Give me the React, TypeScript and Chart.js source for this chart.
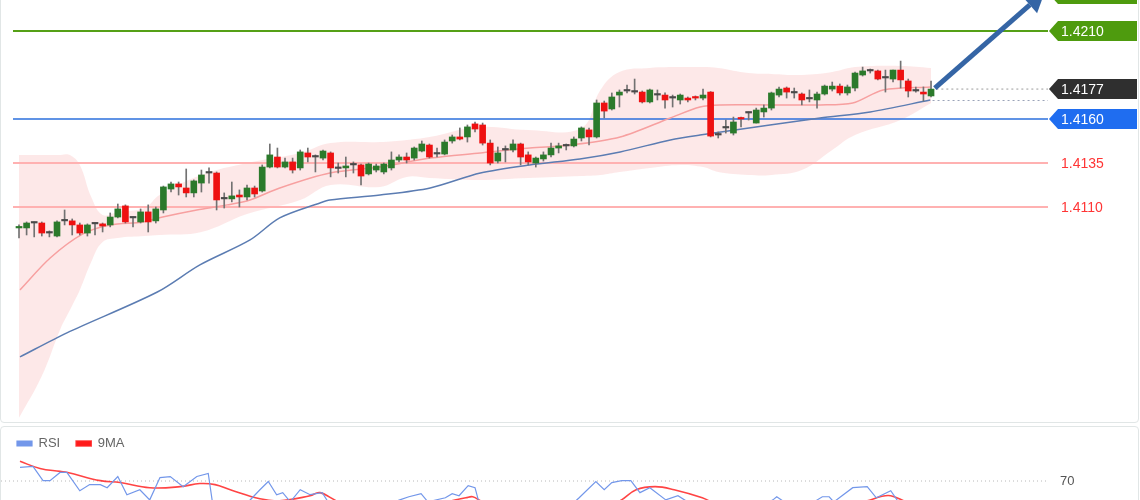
import React, { useEffect, useRef } from "react";
import { Chart, registerables } from "chart.js";
Chart.register(...registerables);

// ---------- candle data (index 0..120) ----------
const opens = [1.40981,1.40981,1.41009,1.41009,1.40952,1.40935,1.41021,1.41021,1.40998,1.40952,1.41004,1.41004,1.40998,1.41043,1.41106,1.41038,1.41015,1.41072,1.41021,1.41083,1.41202,1.41231,1.41208,1.41180,1.41236,1.41293,1.41293,1.41146,1.41146,1.41168,1.41157,1.41208,1.41191,1.41327,1.41384,1.41327,1.41356,1.41322,1.41407,1.41384,1.41378,1.41407,1.41322,1.41322,1.41339,1.41339,1.41288,1.41310,1.41299,1.41322,1.41367,1.41384,1.41378,1.41418,1.41452,1.41401,1.41401,1.41475,1.41498,1.41498,1.41572,1.41566,1.41463,1.41361,1.41424,1.41424,1.41458,1.41396,1.41350,1.41373,1.41396,1.41435,1.41447,1.41447,1.41492,1.41538,1.41498,1.41691,1.41657,1.41736,1.41759,1.41753,1.41753,1.41697,1.41736,1.41736,1.41719,1.41708,1.41719,1.41725,1.41719,1.41753,1.41509,1.41549,1.41520,1.41606,1.41634,1.41577,1.41640,1.41662,1.41736,1.41776,1.41748,1.41742,1.41714,1.41708,1.41742,1.41770,1.41787,1.41748,1.41776,1.41850,1.41873,1.41873,1.41833,1.41827,1.41878,1.41816,1.41759,1.41753,1.41731];
const highs = [1.40998,1.41015,1.41015,1.41015,1.40964,1.41021,1.41083,1.41032,1.41009,1.41004,1.41009,1.41009,1.41066,1.41117,1.41112,1.41043,1.41089,1.41112,1.41100,1.41219,1.41242,1.41242,1.41316,1.41254,1.41310,1.41322,1.41299,1.41180,1.41242,1.41197,1.41225,1.41219,1.41339,1.41458,1.41435,1.41378,1.41378,1.41424,1.41435,1.41396,1.41424,1.41413,1.41350,1.41384,1.41356,1.41344,1.41350,1.41344,1.41350,1.41413,1.41396,1.41407,1.41441,1.41475,1.41458,1.41435,1.41481,1.41509,1.41549,1.41566,1.41583,1.41577,1.41481,1.41441,1.41447,1.41481,1.41463,1.41413,1.41384,1.41413,1.41463,1.41463,1.41458,1.41498,1.41555,1.41549,1.41708,1.41702,1.41748,1.41765,1.41793,1.41827,1.41759,1.41770,1.41765,1.41748,1.41736,1.41742,1.41725,1.41731,1.41770,1.41756,1.41526,1.41594,1.41611,1.41611,1.41640,1.41662,1.41680,1.41753,1.41782,1.41782,1.41776,1.41748,1.41765,1.41753,1.41793,1.41810,1.41799,1.41793,1.41867,1.41895,1.41884,1.41878,1.41878,1.41878,1.41929,1.41827,1.41782,1.41782,1.41816];
const lows = [1.40924,1.40941,1.40930,1.40935,1.40930,1.40930,1.40998,1.40941,1.40941,1.40935,1.40941,1.40958,1.40987,1.41038,1.41009,1.40987,1.41009,1.40958,1.41009,1.41066,1.41185,1.41168,1.41157,1.41157,1.41185,1.41236,1.41083,1.41094,1.41129,1.41100,1.41140,1.41157,1.41185,1.41322,1.41322,1.41322,1.41293,1.41310,1.41356,1.41299,1.41367,1.41271,1.41293,1.41271,1.41293,1.41225,1.41282,1.41299,1.41288,1.41310,1.41356,1.41350,1.41367,1.41413,1.41378,1.41384,1.41396,1.41463,1.41481,1.41469,1.41526,1.41452,1.41339,1.41350,1.41356,1.41413,1.41339,1.41339,1.41327,1.41361,1.41384,1.41407,1.41424,1.41441,1.41475,1.41452,1.41492,1.41606,1.41651,1.41668,1.41748,1.41742,1.41691,1.41691,1.41708,1.41662,1.41668,1.41685,1.41697,1.41708,1.41708,1.41498,1.41492,1.41520,1.41509,1.41555,1.41594,1.41577,1.41611,1.41651,1.41725,1.41719,1.41719,1.41680,1.41697,1.41662,1.41736,1.41759,1.41736,1.41736,1.41759,1.41844,1.41861,1.41822,1.41753,1.41810,1.41776,1.41725,1.41753,1.41702,1.41725];
const closes = [1.40987,1.41009,1.41012,1.40952,1.40955,1.41015,1.41024,1.40998,1.40952,1.40998,1.41007,1.40992,1.41043,1.41089,1.41015,1.41041,1.41072,1.41015,1.41089,1.41214,1.41231,1.41214,1.41180,1.41248,1.41282,1.41296,1.41140,1.41149,1.41163,1.41157,1.41208,1.41174,1.41327,1.41396,1.41327,1.41356,1.41310,1.41413,1.41384,1.41387,1.41418,1.41322,1.41319,1.41333,1.41341,1.41276,1.41344,1.41333,1.41344,1.41367,1.41384,1.41367,1.41435,1.41458,1.41384,1.41404,1.41469,1.41498,1.41486,1.41555,1.41543,1.41463,1.41350,1.41407,1.41427,1.41458,1.41384,1.41356,1.41378,1.41396,1.41435,1.41447,1.41450,1.41486,1.41549,1.41498,1.41691,1.41645,1.41725,1.41753,1.41762,1.41756,1.41697,1.41765,1.41739,1.41708,1.41722,1.41736,1.41708,1.41719,1.41736,1.41503,1.41512,1.41552,1.41583,1.41600,1.41637,1.41651,1.41662,1.41748,1.41770,1.41753,1.41751,1.41708,1.41717,1.41742,1.41787,1.41787,1.41748,1.41782,1.41861,1.41873,1.41876,1.41827,1.41836,1.41878,1.41822,1.41759,1.41762,1.41742,1.41770];

// ---------- overlays (x = candle index) ----------
const bandIdx = [0,3,5.5,6.7,8,9.5,11,13,16.5,18.5,24,30,37,41,47.5,51,54,60.5,67,74,76.5,79,83,87,90,92,96,99,103,107,110,116,120];
const bandUpper = [1.41396,1.41396,1.41396,1.41396,1.41339,1.41157,1.41055,1.41072,1.41094,1.41168,1.41282,1.41350,1.41407,1.41463,1.41469,1.41481,1.41498,1.41555,1.41538,1.41549,1.41765,1.41867,1.41890,1.41895,1.41895,1.41890,1.41861,1.41856,1.41850,1.41867,1.41895,1.41901,1.41890];
const bandLower = [1.39902,1.40140,1.40413,1.40515,1.40629,1.40788,1.40901,1.40924,1.40935,1.40941,1.40958,1.41060,1.41140,1.41225,1.41214,1.41271,1.41265,1.41254,1.41265,1.41276,1.41282,1.41299,1.41322,1.41339,1.41327,1.41299,1.41282,1.41282,1.41310,1.41424,1.41509,1.41594,1.41691];

const maFastIdx = [0.13,4.1,8.4,12,16.3,18.9,23.4,27.4,30.4,34.3,40.9,47.5,54.1,60.7,67.2,72.5,79.1,85.7,89.6,92.2,98.8,105.4,109.7,113.7,119.9];
const maFastVal = [1.40629,1.40810,1.40947,1.40998,1.41015,1.41043,1.41083,1.41112,1.41140,1.41208,1.41293,1.41327,1.41378,1.41407,1.41435,1.41452,1.41498,1.41606,1.41668,1.41680,1.41680,1.41680,1.41691,1.41765,1.41782];

const maSlowIdx = [0.13,6.3,18.2,23.8,30.4,34.3,39.6,40.9,47.5,54.1,60.7,67.2,73.8,79.1,85.7,89.6,98.8,105.4,112,119.9];
const maSlowVal = [1.40248,1.40385,1.40617,1.40771,1.40913,1.41038,1.41123,1.41140,1.41168,1.41208,1.41293,1.41339,1.41373,1.41413,1.41481,1.41509,1.41566,1.41606,1.41640,1.41708];

// ---------- levels ----------
const levelPrices = [1.4231, 1.4210, 1.4177, 1.4160, 1.4135, 1.4110];
const levelLabels = ["1.4231", "1.4210", "1.4177", "1.4160", "1.4135", "1.4110"];
const levelKinds = ["support-green", "support-green", "last", "pivot", "red", "red"];
const lastPrice = 1.4177;
const slowEndPrice = 1.41705;
const arrowFrom = { x: 120.5, y: 1.41775 };
const arrowTo = { x: 133.0, y: 1.42248 };

// ---------- RSI ----------
const rsiIdx = [0.13,1.84,3.16,4.08,5.4,6.3,8,9.3,10.7,11.6,13,14.2,15.9,17.2,18.55,19.9,21.6,23.4,24.9,25.5,28.5,31.7,32.8,33.9,34.7,35.7,37,38.3,39.9,40.9,44.9,50.1,51.3,52.9,53.8,56.1,57,57.9,59.1,60,60.5,65.9,71.2,73.7,75.9,77,78,79.3,80.5,81.7,83,85.1,86.7,88,90.9,94.9,99.2,99.7,100.7,102.8,105.7,106.6,107.2,109.7,111.6,112.8,114.7,115.7,117.9,119.9];
const rsiVal = [77.9,78.5,70.2,70.2,75,75,64.3,67.9,67.9,66.1,72.6,62,64.9,59,72,72.6,66.7,72.6,74.4,56.1,50,64.9,69.7,62,63.2,57.8,64.9,62,63.2,56.1,50,59,60.8,62.6,57.8,60.2,62.6,61.4,67.3,66.1,57.8,47,50,60.2,69.7,64.9,69.1,70.2,70.2,63.2,66.1,59,61.4,57.8,41,47,59,60.8,57.8,53,60.8,60.8,57.8,66.1,66.7,60.2,64.3,57.8,50,53];
const rsiMaIdx = [0.13,2.76,5.4,6.4,10.7,13.3,17.2,21.2,23.8,25.8,27.8,31.7,34.3,38.3,39.6,42.2,50.1,58.8,59.7,61.1,69.9,78.7,81.2,83.7,86.2,89.9,92.2,101.4,111.6,113.3,114.7,116.8,119.9];
const rsiMaVal = [81.5,77.3,75.6,75,70.2,69.1,66.1,66.7,68.5,67.9,64.9,59.6,58.4,61.4,63.2,57.8,53,60.2,60.8,57.8,50,57.8,64.9,66.7,64.9,60.2,56,52,58.4,60.8,61.4,57.8,54];
const rsiLevels = [70];

const X_MIN = -0.79, X_MAX = 135.39;
const Y_MIN = 1.399011, Y_MAX = 1.422761;
const RSI_X_MIN = -2.368;
const RSI_MIN = 0, RSI_MAX = 82.25;

const pts = (xs: number[], ys: number[]) => xs.map((x, i) => ({ x, y: ys[i] }));
const LABEL_FONT = '14px "Liberation Sans", Arial, sans-serif';

const levelColor: Record<string, string> = {
  "support-green": "#55a016",
  pivot: "#2b6fdc",
  red: "#ffb1b1",
};

const tagPlugin = {
  id: "tags",
  afterDraw(chart: any) {
    const { ctx, chartArea } = chart;
    const ys = chart.scales.y;
    ctx.save();
    ctx.font = LABEL_FONT;
    ctx.textBaseline = "middle";
    levelPrices.forEach((p, i) => {
      const y = ys.getPixelForValue(p);
      const kind = levelKinds[i];
      const tip = chartArea.right + 1;
      if (kind === "red") {
        ctx.fillStyle = "#ff3535";
        ctx.fillText(levelLabels[i], tip + 12, y + 1);
        return;
      }
      const bg = kind === "support-green" ? "#4e9b0e" : kind === "last" ? "#2f2f2f" : "#1f6df0";
      ctx.fillStyle = bg;
      ctx.beginPath();
      ctx.moveTo(tip, y);
      ctx.lineTo(tip + 9, y - 10);
      ctx.lineTo(1137, y - 10);
      ctx.lineTo(1137, y + 10);
      ctx.lineTo(tip + 9, y + 10);
      ctx.closePath();
      ctx.fill();
      ctx.fillStyle = "#ffffff";
      ctx.fillText(levelLabels[i], tip + 12, y + 1);
    });
    ctx.restore();
  },
};

const arrowPlugin = {
  id: "arrowHead",
  afterDatasetsDraw(chart: any) {
    const idx = chart.data.datasets.findIndex((d: any) => d.label === "arrow");
    if (idx < 0) return;
    const meta = chart.getDatasetMeta(idx);
    const a = meta.data[0], b = meta.data[1];
    const dx = b.x - a.x, dy = b.y - a.y;
    const len = Math.hypot(dx, dy);
    const ux = dx / len, uy = dy / len;
    const nx = -uy, ny = ux;
    const L = 20, W = 11;
    const ctx = chart.ctx;
    ctx.save();
    ctx.fillStyle = "#3565a5";
    ctx.beginPath();
    ctx.moveTo(b.x + ux * L, b.y + uy * L);
    ctx.lineTo(b.x + nx * W, b.y + ny * W);
    ctx.lineTo(b.x - nx * W, b.y - ny * W);
    ctx.closePath();
    ctx.fill();
    ctx.restore();
  },
};

const rsiLabelPlugin = {
  id: "rsiLabel",
  afterDraw(chart: any) {
    const { ctx, chartArea } = chart;
    const ys = chart.scales.y;
    ctx.save();
    ctx.font = '13px "Liberation Sans", Arial, sans-serif';
    ctx.fillStyle = "#555";
    ctx.textBaseline = "middle";
    rsiLevels.forEach((v) => ctx.fillText(String(v), chartArea.right + 12, ys.getPixelForValue(v)));
    ctx.restore();
  },
};

export default function App() {
  const mainRef = useRef<HTMLCanvasElement>(null);
  const rsiRef = useRef<HTMLCanvasElement>(null);

  useEffect(() => {
    const bodyColors = opens.map((o, i) =>
      Math.abs(closes[i] - o) < 0.00004 ? "#4a4a4a" : closes[i] > o ? "#2b7a2b" : "#ee1111"
    );
    const levelSets: any[] = [];
    levelPrices.forEach((p, i) => {
      const kind = levelKinds[i];
      if (kind === "last") return;
      levelSets.push({
        type: "line",
        label: "level " + levelLabels[i],
        data: [{ x: X_MIN, y: p }, { x: X_MAX, y: p }],
        borderColor: levelColor[kind],
        borderWidth: kind === "pivot" ? 1.5 : 2,
        pointRadius: 0,
        order: 15,
      });
    });

    const main = new Chart(mainRef.current!, {
      type: "bar",
      data: {
        datasets: [
          {
            type: "line",
            label: "band upper",
            data: pts(bandIdx, bandUpper),
            borderWidth: 0,
            pointRadius: 0,
            tension: 0.4,
            fill: "+1",
            backgroundColor: "rgba(248,165,165,0.26)",
            order: 20,
          },
          {
            type: "line",
            label: "band lower",
            data: pts(bandIdx, bandLower),
            borderWidth: 0,
            pointRadius: 0,
            tension: 0.4,
            fill: false,
            order: 20,
          },
          ...levelSets,
          {
            type: "line",
            label: "ma fast",
            data: pts(maFastIdx, maFastVal),
            borderColor: "#f7a0a0",
            borderWidth: 1.5,
            pointRadius: 0,
            tension: 0.3,
            order: 12,
          },
          {
            type: "line",
            label: "ma slow",
            data: pts(maSlowIdx, maSlowVal),
            borderColor: "#5b7cb2",
            borderWidth: 1.5,
            pointRadius: 0,
            tension: 0.3,
            order: 12,
          },
          {
            type: "bar",
            label: "wicks",
            data: lows.map((l, i) => ({ x: i, y: [l, highs[i]] })),
            backgroundColor: "#727272",
            barThickness: 1,
            grouped: false,
            order: 6,
          },
          {
            type: "bar",
            label: "bodies",
            data: opens.map((o, i) => ({ x: i, y: [o, closes[i]] })),
            backgroundColor: bodyColors,
            barThickness: 6,
            minBarLength: 1.5,
            grouped: false,
            order: 5,
          },
          {
            type: "line",
            label: "last",
            data: [{ x: 120.7, y: lastPrice }, { x: X_MAX, y: lastPrice }],
            borderColor: "#9a9a9a",
            borderDash: [2, 3],
            borderWidth: 1,
            pointRadius: 0,
            order: 3,
          },
          {
            type: "line",
            label: "slow end",
            data: [{ x: 120.2, y: slowEndPrice }, { x: X_MAX, y: slowEndPrice }],
            borderColor: "#9aa3b8",
            borderDash: [2, 3],
            borderWidth: 1,
            pointRadius: 0,
            order: 3,
          },
          {
            type: "line",
            label: "arrow",
            data: [arrowFrom, arrowTo],
            borderColor: "#3565a5",
            borderWidth: 5,
            pointRadius: 0,
            order: 1,
          },
        ] as any,
      },
      options: {
        responsive: false,
        animation: false,
        devicePixelRatio: 1,
        layout: { padding: { left: 13, right: 92, top: 0, bottom: 6 } },
        plugins: { legend: { display: false }, tooltip: { enabled: false } },
        scales: {
          x: { type: "linear", min: X_MIN, max: X_MAX, display: false, offset: false },
          y: { type: "linear", min: Y_MIN, max: Y_MAX, display: false, beginAtZero: false },
        },
      } as any,
      plugins: [tagPlugin, arrowPlugin],
    });

    const rsi = new Chart(rsiRef.current!, {
      type: "line",
      data: {
        datasets: [
          {
            label: "RSI",
            data: pts(rsiIdx, rsiVal),
            borderColor: "#7397ea",
            backgroundColor: "#7397ea",
            borderWidth: 1.2,
            pointRadius: 0,
            tension: 0,
          },
          {
            label: "9MA",
            data: pts(rsiMaIdx, rsiMaVal),
            borderColor: "rgba(255,35,35,0.85)",
            backgroundColor: "#ff1a1a",
            borderWidth: 1.6,
            pointRadius: 0,
            tension: 0.4,
          },
          {
            label: "",
            data: [{ x: RSI_X_MIN, y: rsiLevels[0] }, { x: X_MAX, y: rsiLevels[0] }],
            borderColor: "#b8b8b8",
            borderDash: [1, 3],
            borderWidth: 1,
            pointRadius: 0,
          },
        ],
      },
      options: {
        responsive: false,
        animation: false,
        devicePixelRatio: 1,
        layout: { padding: { left: 1, right: 92, top: 0, bottom: 0 } },
        plugins: {
          tooltip: { enabled: false },
          legend: {
            display: true,
            position: "top",
            align: "start",
            labels: {
              boxWidth: 15,
              boxHeight: 5,
              padding: 16,
              color: "#666",
              font: { size: 13, family: '"Liberation Sans", Arial, sans-serif' },
              filter: (item: any) => item.text !== "",
            },
          },
        },
        scales: {
          x: { type: "linear", min: RSI_X_MIN, max: X_MAX, display: false },
          y: { type: "linear", min: RSI_MIN, max: RSI_MAX, display: false },
        },
      } as any,
      plugins: [rsiLabelPlugin],
    });

    return () => {
      main.destroy();
      rsi.destroy();
    };
  }, []);

  return (
    <div style={{ position: "absolute", left: 0, top: 0, width: 1140, height: 500, overflow: "hidden", background: "#fff" }}>
      <div style={{ position: "absolute", left: 0, top: -6, width: 1139, height: 429, boxSizing: "border-box", border: "1px solid #e1e6e6", borderRadius: 4 }} />
      <div style={{ position: "absolute", left: 0, top: 426, width: 1139, height: 200, boxSizing: "border-box", border: "1px solid #e1e6e6", borderRadius: 4 }} />
      <canvas ref={mainRef} width={1140} height={424} style={{ position: "absolute", left: 0, top: 0 }} />
      <canvas ref={rsiRef} width={1140} height={180} style={{ position: "absolute", left: 0, top: 421 }} />
    </div>
  );
}
